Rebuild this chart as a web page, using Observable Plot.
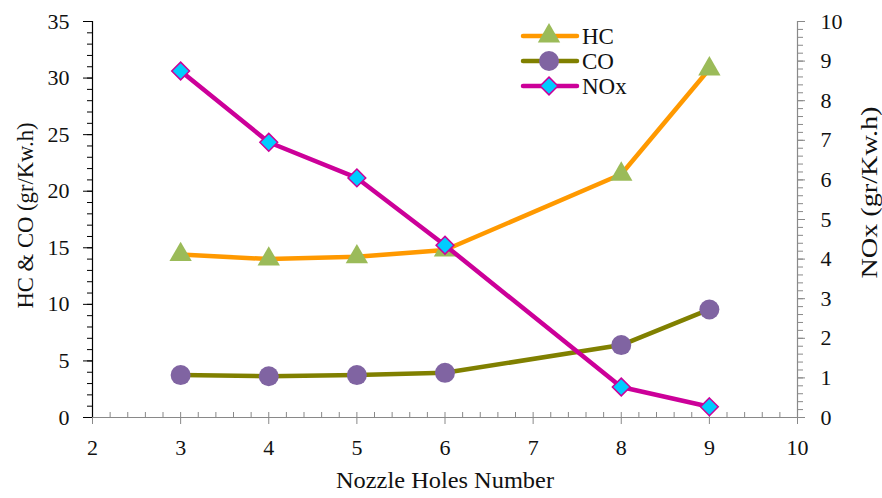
<!DOCTYPE html>
<html>
<head>
<meta charset="utf-8">
<script src="https://cdn.jsdelivr.net/npm/d3@7"></script>
<script src="https://cdn.jsdelivr.net/npm/@observablehq/plot@0.6"></script>
<style>
  body { margin: 0; background: #fff; }
  #chart { position: relative; width: 882px; height: 498px; font-family: "Liberation Serif", "DejaVu Serif", serif; }
  #chart svg.legend { position: absolute; left: 0; top: 0; pointer-events: none; }
</style>
</head>
<body>
<div id="chart"></div>
<script>
// Emissions versus number of injector nozzle holes
const nozzleHoles = [3, 4, 5, 6, 8, 9];
const hcValues = [14.4, 14.0, 14.2, 14.8, 21.5, 30.8];   // gr/Kw.h, left axis
const coValues = [3.75, 3.65, 3.75, 3.95, 6.4, 9.55];    // gr/Kw.h, left axis
const noxValues = [8.75, 6.95, 6.05, 4.35, 0.77, 0.27];  // gr/Kw.h, right axis

const xDomain = [2, 10];
const xTicks = [2, 3, 4, 5, 6, 7, 8, 9, 10];
const leftDomain = [0, 35];
const leftTicks = [0, 5, 10, 15, 20, 25, 30, 35];
const rightDomain = [0, 10];
const rightTicks = [0, 1, 2, 3, 4, 5, 6, 7, 8, 9, 10];

const seriesNames = ["HC", "CO", "NOx"];
const xTitle = "Nozzle Holes Number";
const leftTitle = "HC & CO (gr/Kw.h)";
const rightTitle = "NOx (gr/Kw.h)";

// NOx is drawn on the shared y scale, rescaled from the right-axis range
const ratio = leftDomain[1] / rightDomain[1];

const rows = nozzleHoles.map((n, i) => ({
  n, hc: hcValues[i], co: coValues[i], nox: noxValues[i] * ratio
}));

const xMinor = d3.range(xDomain[0] * 5, xDomain[1] * 5 + 1).map(v => v / 5);
const leftMinor = d3.range(leftDomain[0], leftDomain[1] + 1);
const rightMinor = d3.range(rightDomain[0] * 5, rightDomain[1] * 5 + 1).map(v => (v / 5) * ratio);

const gray = "#898989";
const textColor = "#111";
const font = '"Liberation Serif", "DejaVu Serif", serif';

const colors = {
  hcLine: "#FF9900", hcMark: "#9BBB59",
  coLine: "#808000", coMark: "#8064A2",
  noxLine: "#CC0099", noxMark: "#00CCFF"
};
const lineWidth = 4.5;

const chart = Plot.plot({
  width: 882,
  height: 498,
  marginLeft: 92,
  marginRight: 85,
  marginTop: 21,
  marginBottom: 81,
  style: { fontFamily: font, fontSize: "22px", background: "#fff", color: textColor },
  x: { domain: xDomain },
  y: { domain: leftDomain },
  marks: [
    // bottom axis: minor ticks point up, major ticks point down
    Plot.axisX({ ticks: xMinor, tickSize: -5, stroke: gray, text: null, label: null }),
    Plot.axisX({ ticks: xTicks, tickSize: 7, stroke: gray, text: null, label: null }),
    Plot.axisX({ ticks: xTicks, tickSize: 0, tickPadding: 22, fill: textColor, label: null, tickFormat: d => d }),
    Plot.ruleY([leftDomain[0]], { stroke: gray, strokeWidth: 1.2 }),

    // right axis (NOx)
    Plot.axisY({ anchor: "right", ticks: rightMinor, tickSize: 5, stroke: gray, text: null, label: null }),
    Plot.axisY({ anchor: "right", ticks: rightTicks.map(v => v * ratio), tickSize: 7, stroke: gray, text: null, label: null }),
    Plot.axisY({ anchor: "right", ticks: rightTicks.map(v => v * ratio), tickSize: 0, tickPadding: 23, fill: textColor, label: null,
                 tickFormat: v => String(Math.round(v / ratio)) }),
    Plot.ruleX([xDomain[1]], { stroke: gray, strokeWidth: 1.2 }),

    // left axis (HC & CO)
    Plot.axisY({ ticks: leftMinor, tickSize: 5, stroke: "#000", text: null, label: null }),
    Plot.axisY({ ticks: leftTicks, tickSize: 9, stroke: "#000", text: null, label: null }),
    Plot.axisY({ ticks: leftTicks, tickSize: 0, tickPadding: 23, fill: textColor, label: null, tickFormat: d => d }),
    Plot.ruleX([xDomain[0]], { stroke: "#000", strokeWidth: 1.2 }),

    // axis titles
    Plot.text([xTitle], { frameAnchor: "bottom", textAnchor: "middle", dy: 70, fontSize: 23, fill: textColor }),
    Plot.text([leftTitle], { frameAnchor: "left", textAnchor: "middle", rotate: -90, dx: -67, dy: -4, fontSize: 23, fill: textColor }),
    Plot.text([rightTitle], { frameAnchor: "right", textAnchor: "middle", rotate: -90, dx: 72, dy: -27, fontSize: 23, fill: textColor }),

    // HC
    Plot.line(rows, { x: "n", y: "hc", stroke: colors.hcLine, strokeWidth: lineWidth, strokeLinejoin: "round", strokeLinecap: "round" }),
    Plot.dot(rows, { x: "n", y: "hc", symbol: "triangle", r: 8.3, fill: colors.hcMark, stroke: "none" }),
    // CO
    Plot.line(rows, { x: "n", y: "co", stroke: colors.coLine, strokeWidth: lineWidth, strokeLinejoin: "round", strokeLinecap: "round" }),
    Plot.dot(rows, { x: "n", y: "co", symbol: "circle", r: 10, fill: colors.coMark, stroke: "none" }),
    // NOx
    Plot.line(rows, { x: "n", y: "nox", stroke: colors.noxLine, strokeWidth: lineWidth, strokeLinejoin: "round", strokeLinecap: "round" }),
    Plot.dot(rows, { x: "n", y: "nox", symbol: "diamond2", r: 8, fill: colors.noxMark, stroke: colors.noxLine, strokeWidth: 1.5 })
  ]
});

// Fit the axis titles to their set lengths
const titleLengths = new Map([[xTitle, 218], [leftTitle, 186], [rightTitle, 172]]);
d3.select(chart).selectAll("text").each(function () {
  const len = titleLengths.get(this.textContent);
  if (len) d3.select(this).attr("textLength", len).attr("lengthAdjust", "spacingAndGlyphs");
});

const container = document.getElementById("chart");
container.appendChild(chart);

// Legend inside the plot area
const legendItems = [
  { name: seriesNames[0], line: colors.hcLine, symbol: d3.symbolTriangle, r: 8.3, fill: colors.hcMark, stroke: "none", sw: 0 },
  { name: seriesNames[1], line: colors.coLine, symbol: d3.symbolCircle, r: 10, fill: colors.coMark, stroke: "none", sw: 0 },
  { name: seriesNames[2], line: colors.noxLine, symbol: d3.symbolDiamond2, r: 8, fill: colors.noxMark, stroke: colors.noxLine, sw: 1.5 }
];
const legend = d3.select(container).append("svg")
  .attr("class", "legend").attr("width", 882).attr("height", 498);
const row = legend.selectAll("g").data(legendItems).join("g")
  .attr("transform", (d, i) => `translate(0,${36 + i * 25})`);
row.append("line")
  .attr("x1", 523).attr("x2", 577).attr("y1", 0).attr("y2", 0)
  .attr("stroke", d => d.line).attr("stroke-width", lineWidth).attr("stroke-linecap", "round");
row.append("path")
  .attr("transform", "translate(549,0)")
  .attr("d", d => d3.symbol(d.symbol, Math.PI * d.r * d.r)())
  .attr("fill", d => d.fill).attr("stroke", d => d.stroke).attr("stroke-width", d => d.sw);
row.append("text")
  .attr("x", 582).attr("y", 0).attr("dy", "0.35em")
  .attr("font-size", 23).attr("fill", textColor)
  .attr("font-family", font)
  .text(d => d.name);
</script>
</body>
</html>
